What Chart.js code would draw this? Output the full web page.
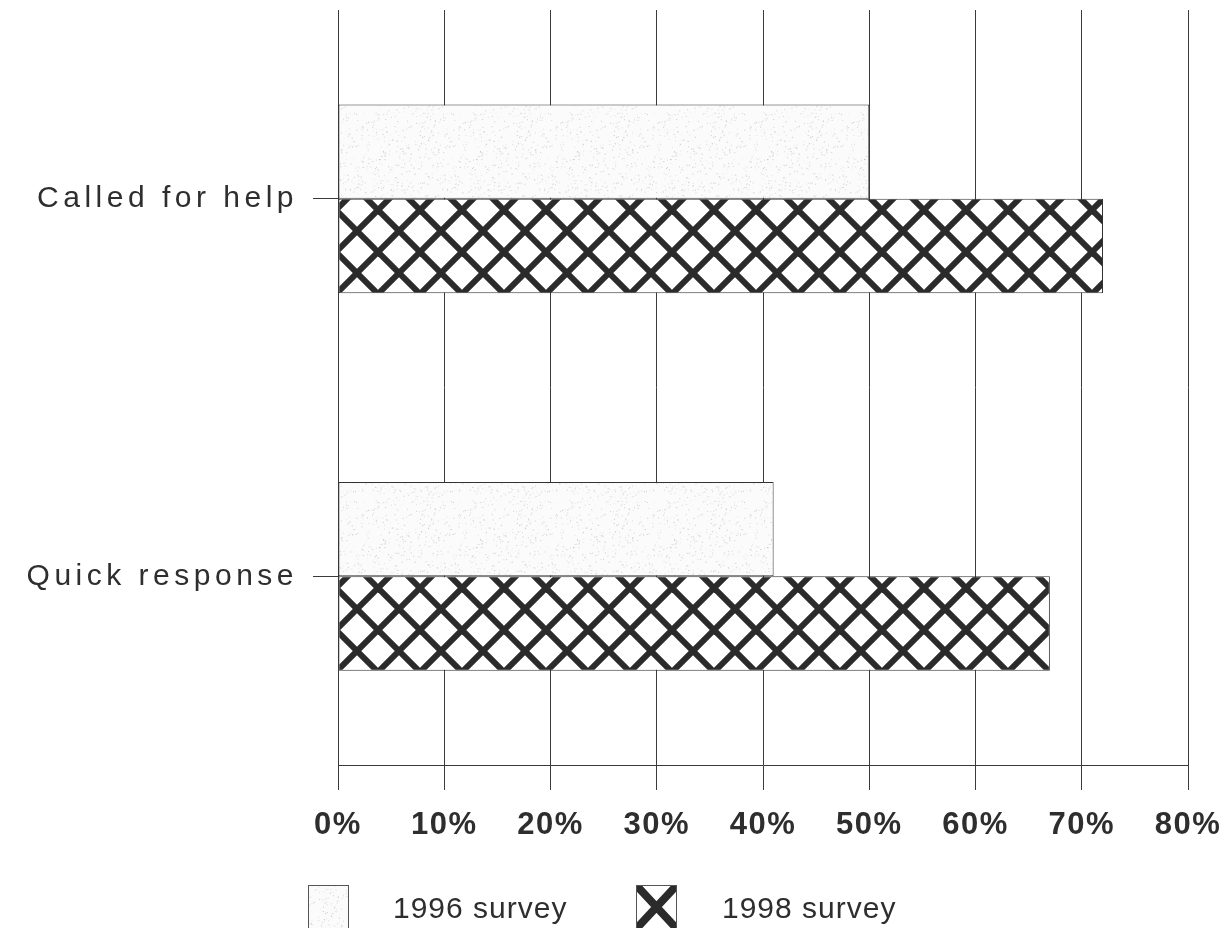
<!DOCTYPE html>
<html>
<head>
<meta charset="utf-8">
<script src="https://cdn.jsdelivr.net/npm/chart.js@4.4.1/dist/chart.umd.min.js"></script>
<style>
  html, body { margin: 0; padding: 0; background: #ffffff; }
  #wrap { width: 1226px; height: 928px; position: relative; }
</style>
</head>
<body>
<div id="wrap"><canvas id="chart"></canvas></div>
<script>
// Survey results (percent of respondents)
const categories = ['Called for help', 'Quick response'];
const survey1996 = [50, 41];
const survey1998 = [72, 67];
const seriesNames = ['1996 survey', '1998 survey'];
const xTickLabels = ['0%', '10%', '20%', '30%', '40%', '50%', '60%', '70%', '80%'];

const FONT = '"Liberation Sans", Arial, Helvetica, sans-serif';
const INK = '#2e2e2e';

// Fine grey grain used for the 1996 bars
function grainPattern() {
  const s = 97;
  const c = document.createElement('canvas');
  c.width = c.height = s;
  const g = c.getContext('2d');
  g.fillStyle = '#fbfbfb';
  g.fillRect(0, 0, s, s);
  let seed = 12345;
  const next = () => (seed = (seed * 16807) % 2147483647) / 2147483647;
  for (let i = 0; i < 450; i++) {
    const x = next() * s, y = next() * s, v = 150 + Math.floor(next() * 80);
    g.fillStyle = `rgba(${v},${v},${v},0.5)`;
    g.fillRect(x, y, 1, 1);
  }
  return g.createPattern(c, 'repeat');
}

// Diagonal diamond cross-hatch used for the 1998 bars
function hatchPattern() {
  const s = 42;
  const c = document.createElement('canvas');
  c.width = c.height = s;
  const g = c.getContext('2d');
  g.fillStyle = '#ffffff';
  g.fillRect(0, 0, s, s);
  g.strokeStyle = '#2b2b2b';
  g.lineWidth = 6;
  for (const o of [-s, 0, s]) {
    g.beginPath(); g.moveTo(o, 0); g.lineTo(o + s, s); g.stroke();
    g.beginPath(); g.moveTo(o + s, 0); g.lineTo(o, s); g.stroke();
  }
  return g.createPattern(c, 'repeat');
}

const fill1996 = grainPattern();
const fill1998 = hatchPattern();

// Wider letter spacing for the axis labels
const labelSpacing = {
  id: 'labelSpacing',
  beforeDraw(chart) {
    for (const [id, sp] of [['x', '1.5px'], ['y', '4.5px']]) {
      const sc = chart.scales[id];
      if (sc && !sc._spaced) {
        const orig = sc.drawLabels;
        sc.drawLabels = function (area) {
          const ctx = this.ctx;
          ctx.save();
          ctx.letterSpacing = sp;
          orig.call(this, area);
          ctx.restore();
        };
        sc._spaced = true;
      }
    }
  }
};

// Legend row beneath the axis
const surveyLegend = {
  id: 'surveyLegend',
  afterDraw(chart) {
    const ctx = chart.ctx;
    const items = [
      { box: 308, text: 393, fill: 'grain', name: seriesNames[0] },
      { box: 636, text: 722, fill: 'hatch', name: seriesNames[1] }
    ];
    const top = 885, w = 41, h = 44;
    ctx.save();
    for (const it of items) {
      ctx.save();
      ctx.beginPath();
      ctx.rect(it.box, top, w, h);
      ctx.clip();
      if (it.fill === 'grain') {
        ctx.fillStyle = fill1996;
        ctx.fillRect(it.box, top, w, h);
      } else {
        ctx.fillStyle = '#ffffff';
        ctx.fillRect(it.box, top, w, h);
        ctx.strokeStyle = '#2b2b2b';
        ctx.lineWidth = 8;
        ctx.beginPath();
        ctx.moveTo(it.box, top); ctx.lineTo(it.box + w, top + h);
        ctx.moveTo(it.box + w, top); ctx.lineTo(it.box, top + h);
        ctx.stroke();
      }
      ctx.restore();
      ctx.strokeStyle = '#555';
      ctx.lineWidth = 1;
      ctx.strokeRect(it.box + 0.5, top + 0.5, w - 1, h);
      ctx.fillStyle = INK;
      ctx.font = '30px ' + FONT;
      ctx.letterSpacing = '1px';
      ctx.textBaseline = 'alphabetic';
      ctx.textAlign = 'left';
      ctx.fillText(it.name, it.text, 918);
      ctx.letterSpacing = '0px';
    }
    ctx.restore();
  }
};

new Chart(document.getElementById('chart'), {
  type: 'bar',
  data: {
    labels: categories,
    datasets: [
      {
        label: seriesNames[0],
        data: survey1996,
        backgroundColor: fill1996,
        borderColor: '#333',
        borderWidth: 1,
        borderSkipped: false
      },
      {
        label: seriesNames[1],
        data: survey1998,
        backgroundColor: fill1998,
        borderColor: '#333',
        borderWidth: 1,
        borderSkipped: false
      }
    ]
  },
  options: {
    indexAxis: 'y',
    responsive: true,
    maintainAspectRatio: false,
    animation: false,
    devicePixelRatio: 1,
    layout: { padding: { top: 10, right: 38, bottom: 68, left: 0 } },
    datasets: { bar: { categoryPercentage: 0.5, barPercentage: 1.0 } },
    plugins: {
      legend: { display: false },
      tooltip: { enabled: false }
    },
    scales: {
      x: {
        min: 0,
        max: 80,
        ticks: {
          stepSize: 10,
          padding: 17,
          color: INK,
          font: { family: FONT, size: 31, weight: 'bold' },
          callback: (v, i) => xTickLabels[i]
        },
        grid: { color: '#3a3a3a', lineWidth: 1, tickLength: 25, drawTicks: true },
        border: { display: true, color: '#3a3a3a', width: 1 },
        afterFit: (scale) => {
          scale.height = 95;
          scale.paddingLeft = 0;
          scale.paddingRight = 0;
        }
      },
      y: {
        ticks: {
          padding: 15,
          color: INK,
          font: { family: FONT, size: 30 }
        },
        grid: { drawOnChartArea: false, offset: false, tickLength: 25, color: '#3a3a3a' },
        border: { display: true, color: '#3a3a3a', width: 1 },
        afterFit: (scale) => {
          scale.width = 338;
          scale.paddingTop = 0;
          scale.paddingBottom = 0;
        }
      }
    }
  },
  plugins: [labelSpacing, surveyLegend]
});
</script>
</body>
</html>
